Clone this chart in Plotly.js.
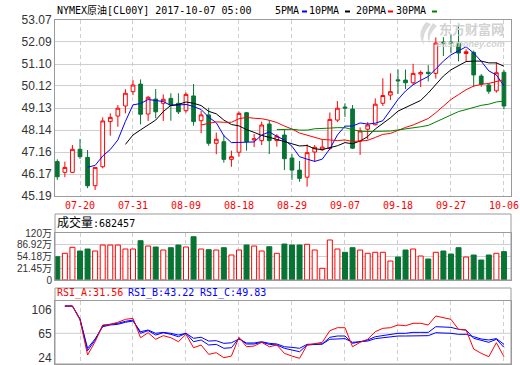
<!DOCTYPE html>
<html>
<head>
<meta charset="utf-8">
<script src="https://cdn.plot.ly/plotly-3.0.1.min.js"></script>
<style>
  html, body { margin: 0; padding: 0; background: #fff; }
  #chart { width: 520px; height: 365px; }
</style>
</head>
<body>
<div id="chart"></div>
<script>
// ---------------- data ----------------
const days = ['07-17','07-18','07-19','07-20','07-21','07-24','07-25','07-26','07-27','07-28','07-31',
  '08-01','08-02','08-03','08-04','08-07','08-08','08-09',
  '08-10','08-11','08-14','08-15','08-16','08-17','08-18',
  '08-21','08-22','08-23','08-24','08-25','08-28','08-29',
  '08-30','08-31','09-01','09-04','09-05','09-06','09-07',
  '09-08','09-11','09-12','09-13','09-14','09-15','09-18',
  '09-19','09-20','09-21','09-22','09-25','09-26','09-27',
  '09-28','09-29','10-02','10-03','10-04','10-05','10-06'];

const tickDates = ['07-20','07-31','08-09','08-18','08-29','09-07','09-18','09-27','10-06'];
const priceTicks = [53.07, 52.09, 51.10, 50.12, 49.13, 48.14, 47.16, 46.17, 45.19];
const volTicks = [-11.28, 21.45, 54.18, 86.92, 119.65];
const volTickText = ['0', '21.45万', '54.18万', '86.92万', '120万'];
const rsiTicks = [24, 65, 106];

const open  = [46.73,46.25,46.25,47.28,46.92,45.65,46.50,48.52,48.77,49.22,49.86,50.20,48.86,49.53,49.34,49.56,49.34,49.01,49.67,48.56,
               48.82,47.55,47.62,46.83,47.15,48.92,47.70,47.67,48.41,47.67,47.92,46.89,46.35,46.03,47.16,47.26,47.32,48.59,49.17,49.08,
               47.65,48.18,48.38,49.34,49.71,50.39,50.38,50.26,50.65,50.73,50.68,52.08,52.08,52.03,51.57,51.62,50.56,50.16,49.90,50.73];
const high  = [46.83,46.73,47.47,47.74,47.25,46.48,48.71,48.89,49.26,49.97,50.38,50.41,49.67,49.98,49.74,49.79,49.79,49.83,50.20,49.01,
               49.14,48.03,47.92,47.22,48.97,48.95,47.97,48.52,48.59,47.96,48.16,47.07,46.76,47.50,47.47,47.72,48.93,49.44,49.34,49.26,
               48.26,48.50,49.56,50.46,50.68,50.86,50.85,51.11,50.81,51.05,52.29,52.30,52.44,52.87,51.76,51.70,50.65,50.24,51.18,50.83];
const low   = [45.91,46.03,46.22,46.85,45.54,45.46,46.43,47.89,48.29,48.89,49.71,48.40,48.55,48.67,48.55,48.56,48.86,48.92,48.34,48.00,
               47.44,47.06,46.68,46.50,46.95,47.22,47.38,47.47,47.07,47.40,46.35,45.91,45.83,45.61,46.71,47.21,47.25,48.50,48.73,47.30,
               47.03,47.72,48.35,49.22,49.49,49.76,49.98,50.16,50.07,50.32,50.45,51.46,51.58,51.22,51.22,50.08,50.08,49.76,49.82,49.07];
const close = [46.05,46.47,47.28,46.95,45.65,46.47,48.55,48.71,49.12,49.79,50.16,48.85,49.61,48.96,49.52,49.26,48.96,49.74,48.52,48.82,
               47.55,47.73,46.83,46.95,48.89,47.62,47.75,48.37,47.67,47.87,46.86,46.35,45.98,47.13,47.37,47.38,48.62,49.12,49.13,47.33,
               48.10,48.37,49.30,49.69,49.86,50.35,50.26,50.68,50.72,50.68,52.04,52.04,52.05,51.59,51.65,50.61,50.20,49.88,50.71,49.22];

const ma5 = [null,null,null,null,
  46.48,46.56,46.98,47.27,47.70,48.53,49.27,49.33,49.51,49.47,49.42,49.24,49.26,49.29,49.20,49.06,
  48.72,48.47,47.89,47.58,47.59,47.60,47.61,47.92,48.06,47.86,47.70,47.42,46.95,46.84,46.74,46.84,
  47.30,47.92,48.32,48.32,48.46,48.41,48.45,48.56,49.06,49.51,49.89,50.17,50.37,50.54,50.88,51.23,
  51.51,51.68,51.87,51.59,51.22,50.79,50.61,50.12];
const ma10 = [null,null,null,null,null,null,null,null,null,
  47.50,47.92,48.15,48.39,48.59,48.97,49.25,49.29,49.40,49.34,49.24,48.98,48.87,48.59,48.39,48.33,
  48.16,48.04,47.90,47.82,47.72,47.65,47.52,47.43,47.45,47.30,47.27,47.36,47.44,47.58,47.53,47.65,
  47.85,48.19,48.44,48.69,48.99,49.15,49.31,49.47,49.80,50.20,50.56,50.84,51.03,51.21,51.23,51.23,
  51.15,51.15,51.00];
const ma20 = [null,null,null,null,null,null,null,null,null,null,null,null,null,null,null,null,null,null,null,
  48.37,48.45,48.51,48.49,48.49,48.65,48.71,48.67,48.65,48.58,48.48,48.32,48.19,48.01,47.92,47.81,
  47.72,47.70,47.67,47.70,47.63,47.65,47.68,47.81,47.95,47.99,48.13,48.26,48.37,48.52,48.66,48.92,
  49.21,49.51,49.73,49.95,50.11,50.19,50.23,50.31,50.40];
const ma30 = [null,null,null,null,null,null,null,null,null,null,null,null,null,null,null,null,null,null,null,
  null,null,null,null,null,null,null,null,null,null,
  48.16,48.18,48.18,48.14,48.14,48.20,48.23,48.23,48.25,48.25,48.16,48.09,48.08,48.07,48.09,48.10,
  48.14,48.18,48.22,48.29,48.35,48.50,48.64,48.82,48.97,49.06,49.16,49.25,49.30,49.40,49.44];

// volume in 万 (10k)
const volume = [54.0,63.6,80.4,70.0,75.6,70.0,86.8,86.8,86.8,75.6,
                75.6,98.9,84.0,81.2,72.8,79.3,86.8,81.2,110.1,75.6,
                73.7,72.8,79.3,58.8,72.8,86.8,84.0,70.0,82.1,63.6,
                89.6,86.8,86.8,88.8,72.8,21.5,100.9,75.6,66.4,79.3,
                72.8,63.6,66.4,66.4,42.0,53.2,72.8,75.6,56.0,47.6,
                66.4,70.0,61.6,79.3,53.2,58.8,44.8,58.8,63.6,68.25];

const rsiA = [null,111.6,111.6,88.0,28.0,50.7,79.2,80.4,83.8,88.9,90.6,57.5,66.0,54.8,61.0,57.5,50.7,63.3,40.4,45.0,
  29.1,31.9,23.3,26.2,58.2,42.1,43.3,49.6,42.1,45.0,30.8,26.2,22.3,45.0,47.9,49.6,69.5,74.6,74.6,42.1,
  49.6,54.8,67.8,73.5,74.6,79.2,78.0,82.1,82.1,79.2,94.6,92.3,88.9,71.8,70.6,38.2,30.8,25.0,49.0,25.0];
const rsiB = [null,111.6,111.6,89.0,35.3,53.6,78.0,80.4,82.1,85.5,87.7,65.0,69.5,62.1,66.0,63.3,59.2,65.0,50.7,53.6,
  45.0,46.2,39.4,40.4,56.5,46.7,46.7,49.6,46.2,45.0,39.4,36.5,33.6,45.0,46.2,46.7,58.2,60.4,60.4,47.9,
  50.7,53.6,59.2,61.0,62.1,65.0,65.0,66.6,66.6,66.6,76.3,76.3,75.2,71.8,70.6,56.5,52.4,49.6,54.8,41.0];
const rsiC = [null,111.6,111.6,89.5,39.4,55.5,76.3,79.2,80.4,83.8,86.0,67.8,70.6,65.0,66.6,65.0,62.1,65.0,56.5,58.3,
  51.8,52.4,47.9,48.8,55.3,48.5,48.5,50.7,47.9,46.8,42.1,41.0,39.4,46.2,46.8,46.8,54.8,55.9,55.9,49.6,
  50.7,51.8,55.9,57.5,58.2,60.4,60.4,61.0,61.0,61.0,66.0,66.0,65.0,63.3,63.3,59.2,55.3,53.6,56.0,46.2];

// ---------------- style ----------------
const RED = '#ff0000', GREEN = '#087434', BLUE = '#0000ff';
const GRID = '#cfcfcf', BORDER = '#9a9a9a';
const MONO = 'DejaVu Sans Mono, Noto Sans CJK SC, monospace';
const SANS = 'Liberation Sans, Arial, Noto Sans CJK SC, sans-serif';
const VOL_BASE = volTicks[0];
const W = 520, H = 365;
const px = v => v / W, py = v => 1 - v / H;
const xDom = [px(55), px(511)];
const xRange = [-0.302, 59.93];

const isUp = close.map((c, i) => c >= open[i]);

const traces = [
  { type: 'candlestick', x: days, open: open, high: high, low: low, close: close,
    xaxis: 'x', yaxis: 'y', whiskerwidth: 0, hoverinfo: 'skip',
    increasing: { line: { color: RED, width: 1 }, fillcolor: '#ffffff' },
    decreasing: { line: { color: GREEN, width: 1 }, fillcolor: GREEN } },
  { type: 'scatter', mode: 'lines', x: days, y: ma5, line: { color: BLUE, width: 1 }, xaxis: 'x', yaxis: 'y', hoverinfo: 'skip' },
  { type: 'scatter', mode: 'lines', x: days, y: ma10, line: { color: '#000000', width: 1 }, xaxis: 'x', yaxis: 'y', hoverinfo: 'skip' },
  { type: 'scatter', mode: 'lines', x: days, y: ma20, line: { color: RED, width: 1 }, xaxis: 'x', yaxis: 'y', hoverinfo: 'skip' },
  { type: 'scatter', mode: 'lines', x: days, y: ma30, line: { color: '#008000', width: 1 }, xaxis: 'x', yaxis: 'y', hoverinfo: 'skip' },
  { type: 'bar', x: days, y: volume.map(v => v - VOL_BASE), base: VOL_BASE, width: 0.66,
    marker: { color: isUp.map(u => u ? '#ffffff' : GREEN), line: { color: isUp.map(u => u ? RED : GREEN), width: 1 } },
    xaxis: 'x2', yaxis: 'y2', hoverinfo: 'skip' },
  { type: 'scatter', mode: 'lines', x: days, y: rsiC, line: { color: BLUE, width: 1 }, xaxis: 'x3', yaxis: 'y3', hoverinfo: 'skip' },
  { type: 'scatter', mode: 'lines', x: days, y: rsiB, line: { color: BLUE, width: 1 }, xaxis: 'x3', yaxis: 'y3', hoverinfo: 'skip' },
  { type: 'scatter', mode: 'lines', x: days, y: rsiA, line: { color: RED, width: 1 }, xaxis: 'x3', yaxis: 'y3', hoverinfo: 'skip' }
];

const xBase = {
  domain: xDom, range: xRange, type: 'category', categoryorder: 'array', categoryarray: days,
  tickvals: tickDates, ticktext: tickDates, ticks: '',
  showgrid: true, gridcolor: GRID, griddash: '4px,3px', gridwidth: 1,
  showline: true, mirror: true, linecolor: BORDER, linewidth: 1,
  zeroline: false, fixedrange: true, rangeslider: { visible: false }
};
const yBase = {
  ticks: '', showline: true, mirror: true, linecolor: BORDER, linewidth: 1,
  zeroline: false, fixedrange: true, gridcolor: GRID, gridwidth: 1,
  tickfont: { family: SANS, size: 12, color: '#333333' }
};

const layout = {
  width: W, height: H, margin: { l: 0, r: 0, t: 0, b: 0 },
  paper_bgcolor: '#ffffff', plot_bgcolor: '#ffffff',
  showlegend: false, hovermode: false, dragmode: false, boxgap: 0.3,
  xaxis: Object.assign({}, xBase, { anchor: 'y', showticklabels: true,
    tickfont: { family: MONO, size: 10, color: RED } }),
  xaxis2: Object.assign({}, xBase, { anchor: 'y2', showticklabels: false }),
  xaxis3: Object.assign({}, xBase, { anchor: 'y3', showticklabels: false }),
  yaxis: Object.assign({}, yBase, { domain: [py(196), py(20)], range: [priceTicks[8], priceTicks[0]],
    tickvals: priceTicks, ticktext: priceTicks.map(v => v.toFixed(2)), anchor: 'x' }),
  yaxis2: Object.assign({}, yBase, { domain: [py(280), py(233.3)], range: [volTicks[0], volTicks[4]],
    tickvals: volTicks, ticktext: volTickText, anchor: 'x2',
    tickfont: { family: SANS, size: 10, color: '#333333' } }),
  yaxis3: Object.assign({}, yBase, { domain: [py(364), py(301)], range: [12.6, 120.2],
    tickvals: rsiTicks, ticktext: rsiTicks.map(String), showgrid: false, anchor: 'x3' }),
  shapes: [
    { type: 'rect', xref: 'paper', yref: 'paper', x0: px(55), x1: px(511), y0: py(280), y1: py(214), line: { color: BORDER, width: 1 } },
    { type: 'rect', xref: 'paper', yref: 'paper', x0: px(55), x1: px(511), y0: py(364), y1: py(288), line: { color: BORDER, width: 1 } },
    { type: 'line', xref: 'paper', yref: 'y3', x0: px(55), x1: px(511), y0: rsiTicks[1], y1: rsiTicks[1], line: { color: GRID, width: 1 }, layer: 'below' },
    { type: 'rect', xref: 'paper', yref: 'paper', x0: px(302), x1: px(307), y0: py(12.5), y1: py(10.5), line: { width: 0 }, fillcolor: BLUE },
    { type: 'rect', xref: 'paper', yref: 'paper', x0: px(345), x1: px(350), y0: py(12.5), y1: py(10.5), line: { width: 0 }, fillcolor: '#000000' },
    { type: 'rect', xref: 'paper', yref: 'paper', x0: px(388), x1: px(393), y0: py(12.5), y1: py(10.5), line: { width: 0 }, fillcolor: RED },
    { type: 'rect', xref: 'paper', yref: 'paper', x0: px(432), x1: px(437), y0: py(12.5), y1: py(10.5), line: { width: 0 }, fillcolor: '#008000' },
    // watermark logo swoosh
    { type: 'path', xref: 'paper', yref: 'paper', line: { width: 0 }, fillcolor: '#dadada',
      path: 'M ' + px(426) + ',' + py(22) + ' Q ' + px(416) + ',' + py(34) + ' ' + px(424) + ',' + py(45) +
            ' Q ' + px(421) + ',' + py(34) + ' ' + px(431) + ',' + py(24) + ' Z' },
    { type: 'path', xref: 'paper', yref: 'paper', line: { width: 0 }, fillcolor: '#dadada',
      path: 'M ' + px(433) + ',' + py(23) + ' Q ' + px(424) + ',' + py(34) + ' ' + px(430) + ',' + py(44) +
            ' Q ' + px(428) + ',' + py(34) + ' ' + px(437) + ',' + py(26) + ' Z' }
  ],
  annotations: [
    { text: 'NYMEX原油[CL00Y] 2017-10-07 05:00', x: px(56), y: py(10) },
    { text: '5PMA', x: px(274), y: py(10) },
    { text: '10PMA', x: px(308), y: py(10) },
    { text: '20PMA', x: px(355), y: py(10) },
    { text: '30PMA', x: px(395), y: py(10) },
    { text: '<span style="font-size:12px">成交量</span>:682457', x: px(56), y: py(222) },
    { text: 'RSI_A:31.56', x: px(56), y: py(293), color: RED },
    { text: 'RSI_B:43.22', x: px(127), y: py(293), color: BLUE },
    { text: 'RSI_C:49.83', x: px(199), y: py(293), color: BLUE },
    { text: '<b>东方财富网</b>', x: px(438), y: py(28), size: 13, color: '#d2d2d2', family: 'Noto Sans CJK SC' },
    { text: '<b><i>eastmoney.com</i></b>', x: px(436), y: py(44), size: 9, color: '#d2d2d2', family: SANS }
  ].map(a => ({
    text: a.text, x: a.x, y: a.y, xref: 'paper', yref: 'paper', xanchor: 'left', yanchor: 'middle',
    showarrow: false, borderpad: 0,
    font: { family: a.family || MONO, size: a.size || 10, color: a.color || '#000000' }
  }))
};

Plotly.newPlot('chart', traces, layout, { staticPlot: true, displayModeBar: false });
</script>
</body>
</html>
